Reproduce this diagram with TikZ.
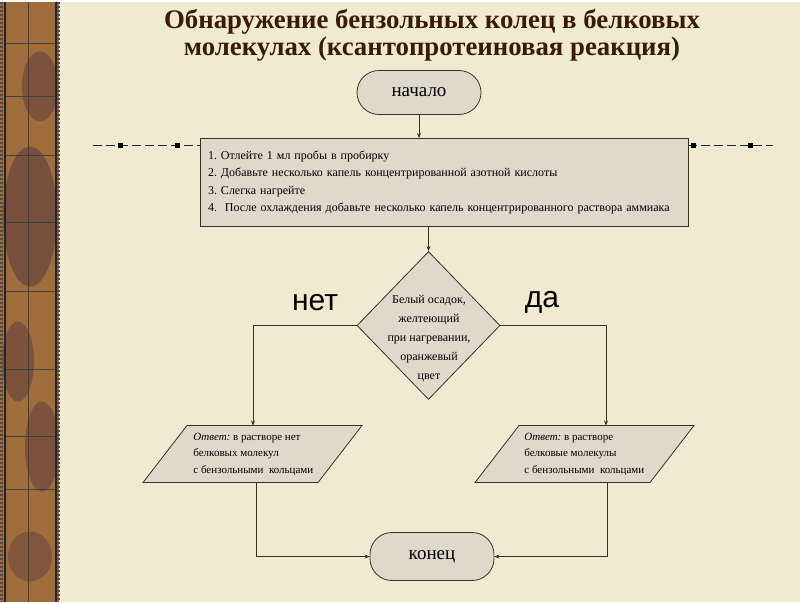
\documentclass[tikz,border=0pt]{standalone}
\usepackage{fontspec}
\setmainfont{Liberation Serif}
\newfontfamily\labelfont{Liberation Sans}
\usetikzlibrary{shapes.geometric,arrows.meta}
\frenchspacing

\definecolor{paper}{RGB}{240,235,208}
\definecolor{boxfill}{RGB}{222,217,202}
\definecolor{titlebrown}{RGB}{58,26,10}
\definecolor{linegray}{RGB}{55,50,40}
\definecolor{stripbrown}{RGB}{160,110,60}
\definecolor{stripdark}{RGB}{108,72,62}

\begin{document}
\begin{tikzpicture}[
        x=1pt, y=-1pt,
        line width=0.8pt,
        terminal/.style={draw=linegray, fill=boxfill, rounded corners=22pt,
            minimum width=124pt, inner sep=0pt,
            font=\fontsize{19}{22}\selectfont},
        stepsbox/.style={draw=linegray, fill=boxfill,
            minimum width=488pt, minimum height=88pt,
            text width=472pt, inner xsep=8pt, align=left,
            font=\fontsize{12}{17.6}\selectfont},
        decision/.style={diamond, draw=linegray, fill=boxfill,
            minimum width=143pt, minimum height=148pt, inner sep=0pt},
        answerbox/.style={draw=linegray, fill=boxfill},
        smalltext/.style={align=left, inner sep=0pt,
            font=\fontsize{11}{16.5}\selectfont},
        verdict/.style={font=\labelfont\fontsize{30}{32}\selectfont},
        arrow/.style={draw=linegray, -{Stealth[length=5pt,width=4pt]}},
        ornament/.style={draw=black!85, line width=1.1pt,
            dash pattern=on 9pt off 4pt},
        knot/.style={fill=black, minimum size=5pt, inner sep=0pt},
        stripline/.style={draw=black!75, line width=0.7pt}
    ]

    % background
    \fill[paper] (0,0) rectangle (800,600);

    % left strip
    \fill[stripbrown] (0,0) rectangle (59,600);
    \fill[stripdark, opacity=.7] (40,85) ellipse (18pt and 35pt);
    \fill[stripdark, opacity=.8] (30,215) ellipse (27pt and 70pt);
    \fill[stripdark, opacity=.7] (18,360) ellipse (16pt and 40pt);
    \fill[stripdark, opacity=.7] (42,445) ellipse (17pt and 45pt);
    \fill[stripdark, opacity=.6] (30,555) ellipse (22pt and 25pt);
    \draw[stripline] (28,0) -- (28,600);
    \foreach \y in {42,95,154,221,290,368,435,488}
        \draw[stripline] (5,\y) -- (56,\y);
    \draw[line width=1.2pt, black!85] (5,0) -- (5,600);
    \draw[line width=1.2pt, black!85] (56,0) -- (56,600);
    \draw[line width=3pt, black!70, dash pattern=on 2pt off 2pt] (1.5,0) -- (1.5,600);
    \draw[line width=3pt, black!70, dash pattern=on 2pt off 2pt] (58,0) -- (58,600);

    % title
    \node[
        align=center,
        text=titlebrown,
        font=\bfseries\fontsize{26.8}{27.5}\selectfont,
        name=title
    ] at (432,34) {Обнаружение бензольных колец в белковых\\
        молекулах (ксантопротеиновая реакция)};

    % flowchart
    \node[terminal, minimum height=44pt, name=start] at (419,91) {начало};

    \node[stepsbox, name=steps] at (444,181) {1. Отлейте 1 мл пробы в пробирку\\
        2. Добавьте несколько капель концентрированной азотной кислоты\\
        3. Слегка нагрейте\\
        4.\ \ После охлаждения добавьте несколько капель концентрированного раствора аммиака};

    \node[decision, name=check] at (428.5,324) {};
    \node[
        align=center,
        inner sep=0pt,
        font=\fontsize{12}{19.2}\selectfont,
        name=checktext
    ] at (429,337) {Белый осадок,\\желтеющий\\при нагревании,\\оранжевый\\цвет};

    \node[verdict, name=no] at (315,301) {нет};
    \node[verdict, name=yes] at (542,301) {да};

    % answers (parallelograms)
    \draw[answerbox] (143,481) -- (187,424) -- (362,424) -- (318,481) -- cycle;
    \coordinate (noin) at (253,424);
    \coordinate (noout) at (256,481);
    \node[smalltext, anchor=north west, name=notext] at (193,431)
        {\textit{Ответ:} в растворе нет\\белковых молекул\\с бензольными\ \ кольцами};

    \draw[answerbox] (475,481) -- (519,424) -- (694,424) -- (650,481) -- cycle;
    \coordinate (yesin) at (606,424);
    \coordinate (yesout) at (607,481);
    \node[smalltext, anchor=north west, name=yestext] at (524,431)
        {\textit{Ответ:} в растворе\\белковые молекулы\\с бензольными\ \ кольцами};

    \node[terminal, minimum height=48pt, name=finish] at (432,555) {конец};

    % connectors
    \draw[arrow] (start) -- (start |- steps.north);
    \draw[arrow] (steps.south -| check.north) -- (check.north);
    \draw[arrow] (check.west) -| (noin);
    \draw[arrow] (check.east) -| (yesin);
    \draw[arrow] (noout) |- (finish.west);
    \draw[arrow] (yesout) |- (finish.east);

    % dashed ornaments
    \coordinate (lfar) at (93,144);
    \coordinate (rfar) at (773,144);
    \draw[ornament] (lfar) -- (steps.west |- lfar);
    \draw[ornament] (steps.east |- rfar) -- (rfar);
    \foreach \x/\n in {120/k1,177/k2,693/k3,750/k4}
        \node[knot, name=\n] at (\x,144) {};
\end{tikzpicture}
\end{document}
